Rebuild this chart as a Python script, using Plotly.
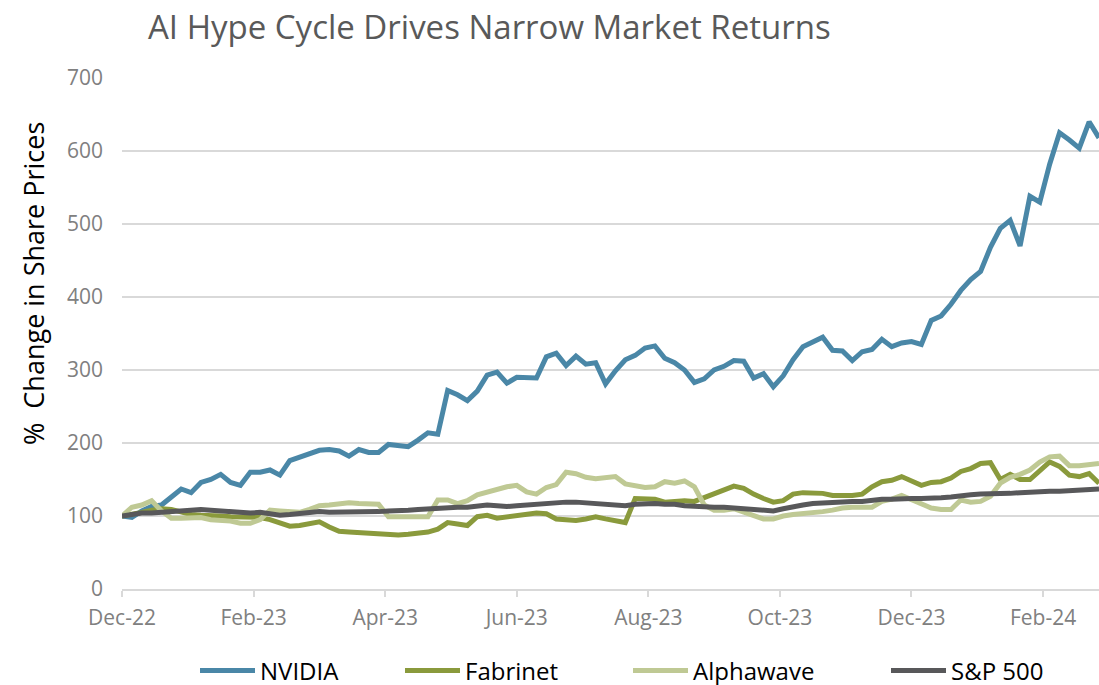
import pandas as pd
import plotly.graph_objects as go

# ---------------- data ----------------
START, END = "2022-12-30", "2024-03-08"
HOLIDAYS = ["2023-01-02", "2023-01-16", "2023-02-20", "2023-04-07", "2023-05-29",
            "2023-06-19", "2023-07-04", "2023-09-04", "2023-11-23", "2023-12-25",
            "2024-01-01", "2024-01-15", "2024-02-19"]
trading_days = pd.bdate_range(START, END, freq="C", holidays=HOLIDAYS)
dates = trading_days[::3]          # sampled every 3rd trading day
tick_dates = trading_days[::40]
tick_labels = ["Dec-22", "Feb-23", "Apr-23", "Jun-23", "Aug-23", "Oct-23", "Dec-23", "Feb-24"]

nvidia = [100, 98, 107, 113, 115, 125, 137, 132, 146, 150,
          157, 146, 142, 160, 160, 163, 156, 176, 181, 185,
          190, 191, 189, 182, 191, 187, 187, 198, 196, 195,
          204, 214, 212, 272, 266, 258, 271, 293, 297, 282,
          290, 290, 289, 318, 323, 306, 319, 308, 310, 281,
          299, 314, 320, 330, 333, 316, 310, 300, 283, 288,
          300, 305, 313, 312, 289, 295, 277, 292, 314, 332,
          338, 345, 327, 326, 313, 325, 328, 342, 332, 337,
          339, 335, 368, 374, 390, 409, 424, 435, 468, 494,
          505, 470, 538, 530, 582, 625, 615, 604, 640, 618]

fabrinet = [100, 102, 105, 108, 110, 109, 106, 102, 101, 101,
            100, 99, 99, 99, 98, 95, 90, 86, 87, 90,
            92, 85, 79, 78, 77, 76, 75, 74, 74, 75,
            76, 78, 82, 91, 89, 87, 99, 101, 97, 99,
            101, 102, 104, 103, 96, 95, 94, 96, 99, 96,
            93, 91, 124, 123, 123, 119, 120, 121, 120, 125,
            131, 135, 141, 138, 130, 124, 119, 121, 130, 132,
            132, 131, 128, 128, 128, 130, 140, 147, 149, 154,
            148, 142, 146, 147, 152, 161, 165, 172, 173, 150,
            157, 150, 150, 163, 174, 168, 156, 154, 158, 145]

alphawave = [100, 112, 115, 121, 107, 97, 97, 98, 98, 95,
             94, 93, 90, 90, 95, 108, 107, 106, 105, 109,
             114, 115, 116, 118, 117, 116, 116, 99, 99, 99,
             99, 99, 122, 122, 117, 121, 129, 133, 136, 140,
             142, 133, 130, 139, 143, 160, 158, 153, 151, 152,
             154, 144, 142, 139, 140, 147, 145, 148, 140, 115,
             108, 108, 110, 105, 100, 96, 96, 100, 102, 103,
             104, 106, 108, 111, 112, 112, 112, 120, 123, 128,
             122, 116, 111, 109, 109, 122, 119, 120, 127, 145,
             153, 157, 163, 174, 181, 182, 169, 169, 171, 172]

sp500 = [100, 102, 104, 104, 105, 105, 106, 108, 109, 108,
         107, 106, 104, 104, 105, 103, 101, 102, 103, 105,
         106, 105, 105, 105, 106, 106, 106, 107, 107, 108,
         109, 110, 110, 111, 112, 112, 114, 115, 114, 113,
         114, 115, 117, 118, 118, 119, 119, 118, 117, 116,
         115, 114, 116, 117, 117, 116, 116, 114, 113, 112,
         112, 112, 111, 111, 109, 108, 107, 110, 113, 115,
         117, 118, 119, 119, 120, 120, 122, 123, 123, 124,
         124, 124, 124, 125, 126, 128, 129, 130, 130, 131,
         131, 132, 133, 133, 134, 134, 135, 135, 136, 137]

series_names = ["NVIDIA", "Fabrinet", "Alphawave", "S&P 500"]
series_values = [nvidia, fabrinet, alphawave, sp500]
series_colors = ["#4a87a7", "#8a9a3c", "#bfc994", "#58585a"]
legend_widths = [135, 158, 188, 100]

FONT = "Open Sans"

fig = go.Figure()
for name, vals, color, lw in zip(series_names, series_values, series_colors, legend_widths):
    fig.add_trace(go.Scatter(x=list(dates), y=vals, name=name, mode="lines",
                             legendwidth=lw,
                             line=dict(color=color, width=5)))

fig.update_layout(
    width=1099, height=685,
    paper_bgcolor="white", plot_bgcolor="white",
    margin=dict(l=122, r=0, t=78, b=96, autoexpand=False),
    font=dict(family=FONT, color="#000000"),
    title=dict(text="AI Hype Cycle Drives Narrow Market Returns",
               x=148 / 1099, xref="container", xanchor="left",
               y=1 - 27 / 685, yref="container", yanchor="middle",
               font=dict(family=FONT, size=33, color="#595959")),
    legend=dict(orientation="h", xref="container", yref="container",
                x=195 / 1099, xanchor="left", y=14 / 685, yanchor="middle",
                font=dict(family=FONT, size=24, color="#000000"),
                itemwidth=55, traceorder="normal"),
    showlegend=True,
)

fig.update_xaxes(
    type="date", range=[START, END],
    rangebreaks=[dict(bounds=["sat", "mon"]), dict(values=HOLIDAYS)],
    tickvals=list(tick_dates), ticktext=tick_labels,
    showgrid=False, showline=True, linecolor="#d9d9d9", linewidth=2,
    ticks="outside", ticklen=6, tickcolor="#d9d9d9", tickwidth=2,
    ticklabelstandoff=3,
    tickfont=dict(family=FONT, size=21, color="#808080"),
)
fig.update_yaxes(
    range=[0, 700], dtick=100, tick0=0,
    showgrid=True, gridcolor="#d9d9d9", gridwidth=2, zeroline=False,
    showline=False, ticks="", ticklabelstandoff=18,
    tickfont=dict(family=FONT, size=21, color="#808080"),
)

fig.add_annotation(text="%\u00a0\u00a0Change in Share Prices", textangle=-90,
                   xref="paper", yref="paper",
                   x=-89 / 977, y=(589 - 284) / 511, xanchor="center", yanchor="middle",
                   showarrow=False, font=dict(family=FONT, size=27, color="#000000"))

fig.write_html("out.html", config={"displayModeBar": False},
               post_script="document.body.style.margin='0px';")
